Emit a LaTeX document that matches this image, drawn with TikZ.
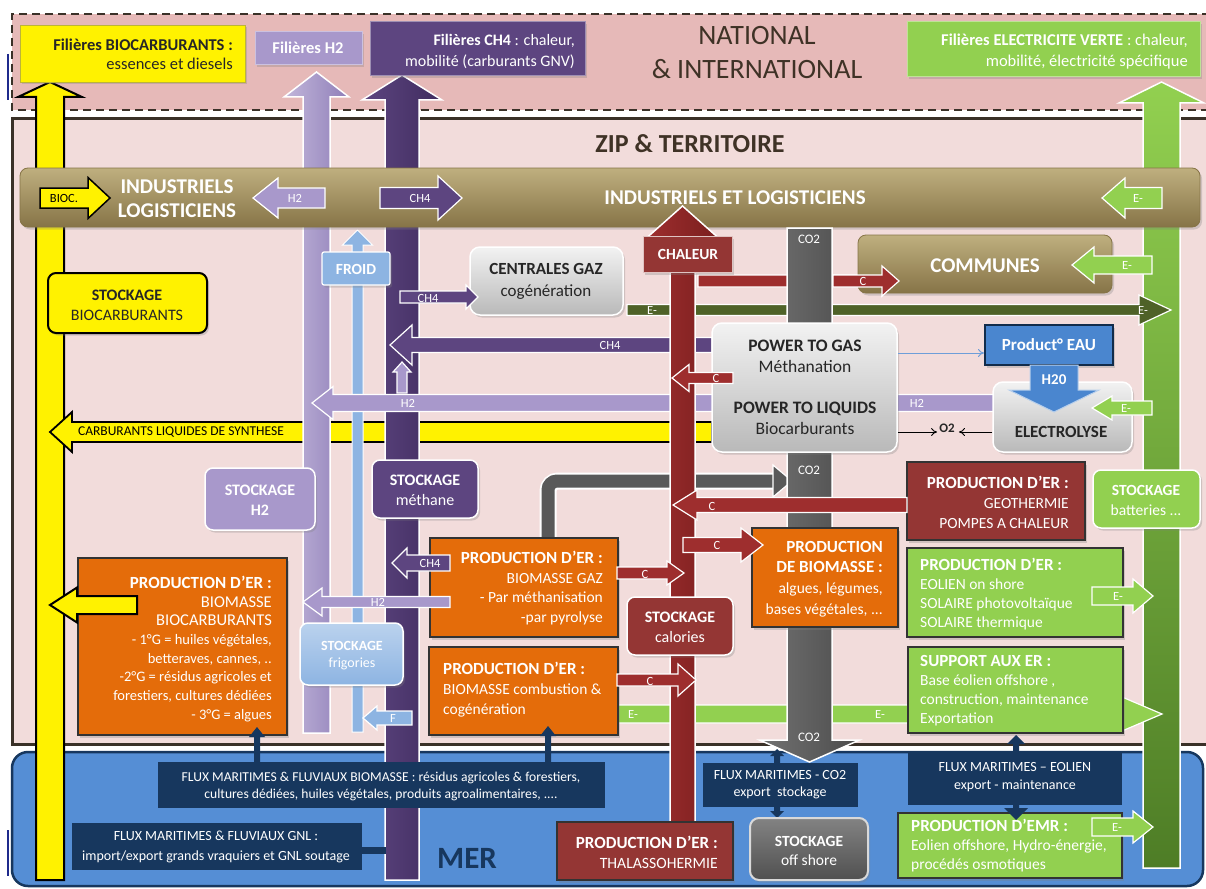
\documentclass[tikz,border=0pt]{standalone}
\usepackage{fontspec}
\setmainfont{Carlito}
\usetikzlibrary{arrows.meta,shadows}
\definecolor{pinkA}{HTML}{E6B9B8}
\definecolor{pinkB}{HTML}{F2DCDB}
\definecolor{darkb}{HTML}{3A3128}
\definecolor{oliveL}{HTML}{BFAF7F}
\definecolor{oliveD}{HTML}{867447}
\definecolor{lav}{HTML}{A898CB}
\definecolor{lavD}{HTML}{8F7EB8}
\definecolor{purp}{HTML}{5D4580}
\definecolor{purpD}{HTML}{402C5F}
\definecolor{redc}{HTML}{9E2E2E}
\definecolor{redD}{HTML}{7A1E1E}
\definecolor{lgreen}{HTML}{92D050}
\definecolor{green2}{HTML}{4E7D26}
\definecolor{dgreen}{HTML}{4F6228}
\definecolor{greyc}{HTML}{595959}
\definecolor{orangec}{HTML}{E46C0A}
\definecolor{navy}{HTML}{17375E}
\definecolor{merblue}{HTML}{558ED5}
\definecolor{lblue}{HTML}{8DB4E2}
\definecolor{eaublue}{HTML}{4A86CF}
\definecolor{titlec}{HTML}{3F3226}
\definecolor{geored}{HTML}{943634}
\definecolor{border}{HTML}{333333}
\definecolor{txtd}{HTML}{262626}
\definecolor{markblue}{HTML}{1F2A8C}
\newcommand\myfs[2]{\fontsize{#1}{#2}\selectfont}
\newcommand\myhd[1]{{\fontsize{17}{19}\selectfont\bfseries #1}}
% horizontal arrow: style, x tail, x tip, y, shaft half, head half, head length
\newcommand\harr[7]{%
 \pgfmathsetmacro\myhb{#3-sign(#3-#2)*#7}%
 \path[#1] (#2,#4-#5) -- (\myhb,#4-#5) -- (\myhb,#4-#6) -- (#3,#4) -- (\myhb,#4+#6) -- (\myhb,#4+#5) -- (#2,#4+#5) -- cycle;}
% vertical arrow: style, y tail, y tip, x, shaft half, head half, head length
\newcommand\varr[7]{%
 \pgfmathsetmacro\myvb{#3-sign(#3-#2)*#7}%
 \path[#1] (#4-#5,#2) -- (#4-#5,\myvb) -- (#4-#6,\myvb) -- (#4,#3) -- (#4+#6,\myvb) -- (#4+#5,\myvb) -- (#4+#5,#2) -- cycle;}
% box: name, style, x1, y1, x2, y2, text
\newcommand\bx[7]{\node[inner sep=0pt, minimum width={(#5)-(#3)}, minimum height={(#6)-(#4)}, #2] (#1) at ({((#3)+(#5))/2},{((#4)+(#6))/2}) {#7};}
\begin{document}
\begin{tikzpicture}[x=1pt,y=-1pt,
  lab/.style={font={\myfs{12.5}{14}}, text=white, inner sep=0pt},
  labk/.style={font={\myfs{12.5}{14}}, text=black, inner sep=0pt},
  shd/.style={drop shadow={opacity=0.3, shadow xshift=2pt, shadow yshift=-2.5pt}},
  sq/.style={draw=border, line width=2pt, shd},
  rb/.style={rounded corners=8pt, draw=white, line width=1.5pt, shd},
  gbox/.style={top color=gray!10, bottom color=gray!55, draw=white, line width=1.5pt, rounded corners=10pt, shd},
  wtxt/.style={text=white, inner sep=0pt},
  dtxt/.style={text=txtd, inner sep=0pt},
  wl/.style={draw=white, line width=1.2pt}
]
\useasboundingbox (0,0) rectangle (1206,888);
\fill[white] (0,0) rectangle (1206,888);
% ---------- backgrounds
\fill[pinkA] (12,14) rectangle (1210,110);
\draw[darkb, line width=2.5pt, dash pattern=on 8pt off 5pt] (1210,14) -- (12,14) -- (12,110) -- (1210,110);
\fill[pinkB] (12,119) rectangle (1210,744);
\draw[darkb, line width=3pt] (1210,119) -- (12,119) -- (12,744) -- (1210,744);
\draw[navy, line width=2.5pt, fill=merblue, rounded corners=16pt] (12,752) rectangle (1203,886);
\draw[markblue, line width=2pt] (7.5,54) -- (7.5,100);
\draw[markblue, line width=2pt] (7.5,830) -- (7.5,876);
\node[font={\myfs{28}{34}}, text=titlec, align=center] (nat) at (757,53) {NATIONAL\\\& INTERNATIONAL};
\node[font={\bfseries\myfs{26}{28}}, text=titlec] (zip) at (690,144) {ZIP \& TERRITOIRE};
% ---------- vertical flows and horizontal flows underneath
\varr{fill=yellow, draw=black, line width=2pt}{880}{82}{50}{14}{32}{15}
\harr{fill=yellow, draw=black, line width=1.8pt}{712}{50}{432}{10}{20}{22}
\node[labk, font={\myfs{13.5}{14}}] (carb) at (181,432) {CARBURANTS LIQUIDES DE SYNTHESE};
\varr{left color=lav!70!white, right color=lavD, draw=white, line width=1.5pt}{733}{72}{316.5}{13.5}{32.5}{25}
\varr{fill=lblue, draw=white, line width=1pt}{732}{230}{357.5}{5.5}{15}{15}
\varr{left color=purp, right color=purpD, draw=white, line width=1.5pt}{880}{75}{402}{17}{40}{25}
\varr{top color=lgreen, bottom color=green2, draw=white, line width=1.5pt}{868}{82}{1161.5}{18.5}{42.5}{21}
\harr{fill=lgreen, wl}{617}{1162}{714}{9}{17}{40}
\node[lab] at (633,714) {E-};
\node[lab] at (880,714) {E-};
\harr{fill=dgreen, wl}{627}{1171}{310}{5.5}{15}{32}
\node[lab] at (652,310) {E-};
\node[lab] at (1143,310) {E-};
\harr{fill=redc, wl}{698}{899}{281}{6}{15}{17}
\harr{fill=purp, wl}{712}{390}{345}{7.5}{20}{22}
\node[lab] at (610,345) {CH4};
\harr{fill=lav, wl}{995}{312}{403}{8.5}{16.5}{21}
\node[lab] at (408,403) {H2};
\node[lab] at (917,403) {H2};
\varr{fill=lav, wl}{393}{362}{402}{5}{9}{10}
% ---------- industriels bar
\bx{ind}{top color=oliveL, bottom color=oliveD, draw=oliveD, line width=0.8pt, rounded corners=8pt, shd}{20}{168}{1200}{227}{}
\node[font={\bfseries\myfs{21}{24}}, wtxt, align=center] (indl) at (177,199) {INDUSTRIELS\\LOGISTICIENS};
\node[font={\bfseries\myfs{21}{22}}, wtxt] (indc) at (735,198) {INDUSTRIELS ET LOGISTICIENS};
\harr{fill=yellow, draw=black, line width=1.5pt}{40}{110}{198}{10}{20.5}{22}
\node[labk] at (64,198) {BIOC.};
\harr{fill=lav, wl}{325}{253}{198}{10}{20}{25}
\node[lab] at (295,198) {H2};
\harr{fill=purp, wl}{380}{462}{198}{10.5}{22}{24}
\node[lab] at (420,198) {CH4};
\harr{fill=lgreen, wl}{1162}{1102}{198}{10.5}{20}{23}
\node[lab] at (1138,198) {E-};
% ---------- grey bend, red shaft, grey shaft
\draw[white, line width=17pt, rounded corners=10pt] (548,540) -- (548,481) -- (775,481);
\draw[greyc, line width=13pt, rounded corners=9pt] (548,541) -- (548,481) -- (776,481);
\path[fill=greyc, wl] (773,465) -- (792,481) -- (773,497) -- cycle;
\varr{left color=redc, right color=redD, draw=white, line width=1.5pt}{822}{206}{682.5}{12.5}{36}{32}
\varr{left color=greyc!85!white, right color=greyc!85!black, draw=white, line width=1.5pt}{228}{762}{809.5}{22.5}{50}{22}
\node[lab, font={\myfs{13}{14}}] at (809,239) {CO2};
\node[lab, font={\myfs{13}{14}}] at (809,470) {CO2};
\node[lab, font={\myfs{13}{14}}] at (809,737) {CO2};
% ---------- top boxes
\bx{fbio}{fill=yellow, draw=yellow!70!black, line width=0.8pt, shd}{20}{25}{245}{82}{}
\node[font={\myfs{16.5}{19}}, align=right, anchor=east, dtxt] (fbiot) at (233,54) {\textbf{Filières BIOCARBURANTS :}\\essences et diesels};
\bx{fh2}{fill=lav, draw=lav!60!white, line width=1pt, shd}{255}{32}{362}{65}{}
\node[font={\bfseries\myfs{16.5}{18}}, wtxt] (fh2t) at (308,48) {Filières H2};
\bx{fch4}{fill=purp, draw=purp!60!white, line width=1pt, shd}{370}{22}{585}{76}{}
\node[font={\myfs{16}{21}}, align=right, anchor=east, wtxt] (fch4t) at (575,51) {\textbf{Filières CH4} : chaleur,\\mobilité (carburants GNV)};
\bx{fel}{fill=lgreen, draw=lgreen!60!white, line width=1pt, shd}{907}{22}{1200}{77}{}
\node[font={\myfs{16.5}{21}}, align=right, anchor=east, wtxt] (felt) at (1188,52) {\textbf{Filières ELECTRICITE VERTE} : chaleur,\\mobilité, électricité spécifique};
% ---------- left column
\bx{stbio}{fill=yellow, draw=black, line width=2pt, rounded corners=8pt, shd}{48}{273}{207}{333}{}
\node[font={\myfs{16}{20}}, align=center, dtxt] (stbiot) at (127,305) {\textbf{STOCKAGE}\\BIOCARBURANTS};
\bx{froid}{fill=lblue, draw=white, line width=1.2pt, rounded corners=2pt, shd}{322}{252}{390}{285}{}
\node[font={\bfseries\myfs{15.5}{17}}, wtxt] (froidt) at (356,269) {FROID};
\bx{sth2}{fill=lav, rb}{205}{468}{315}{530}{}
\node[font={\bfseries\myfs{16}{20}}, align=center, wtxt] (sth2t) at (260,500) {STOCKAGE\\H2};
\bx{stch4}{fill=purp, rb}{372}{460}{478}{518}{}
\node[font={\myfs{16}{20}}, align=center, wtxt] (stch4t) at (425,490) {\textbf{STOCKAGE}\\méthane};
\bx{pbc}{fill=orangec, sq}{78}{558}{287}{735}{}
\node[font={\myfs{14.5}{18.7}}, align=right, anchor=east, wtxt] (pbct) at (272,649) {\myhd{PRODUCTION D’ER :}\\{\myfs{16.5}{18}BIOMASSE}\\{\myfs{16.5}{18}BIOCARBURANTS}\\- 1°G = huiles végétales,\\betteraves, cannes, ..\\-2°G = résidus agricoles et\\forestiers, cultures dédiées\\- 3°G = algues};
\harr{fill=yellow, draw=black, line width=2pt}{137}{50}{605}{9}{17.5}{27}
\bx{stfr}{top color=lblue!60!white, bottom color=lblue, rb}{300}{623}{403}{685}{}
\node[font={\myfs{14}{17}}, align=center, wtxt] (stfrt) at (352,656) {\textbf{STOCKAGE}\\frigories};
% ---------- centre boxes
\bx{chal}{fill=geored, draw=white!70!geored, line width=1pt, shd}{643}{236}{732}{272}{}
\node[font={\bfseries\myfs{15.5}{17}}, wtxt] (chalt) at (688,254) {CHALEUR};
\bx{cgaz}{gbox}{470}{247}{623}{315}{}
\node[font={\myfs{17}{22}}, align=center, dtxt] (cgazt) at (546,281) {\textbf{CENTRALES GAZ}\\cogénération};
\harr{fill=purp, wl}{400}{478}{297}{6}{12}{12}
\node[lab] at (428,298) {CH4};
\bx{comm}{top color=oliveL, bottom color=oliveD, draw=oliveD, line width=0.8pt, rounded corners=8pt, shd}{858}{235}{1112}{293}{}
\node[font={\bfseries\myfs{21}{22}}, wtxt] (commt) at (985,266) {COMMUNES};
\harr{fill=redc, wl}{833}{899}{281}{6}{15}{17}
\node[lab] at (863,281) {C};
\harr{fill=lgreen, wl}{1152}{1072}{265}{9}{18}{22}
\node[lab] at (1127,265) {E-};
\bx{ptg}{gbox}{712}{323}{897}{452}{}
\node[font={\myfs{17.5}{21}}, align=center, dtxt] (ptgt) at (805,356) {\textbf{POWER TO GAS}\\Méthanation};
\node[font={\myfs{17.5}{21}}, align=center, dtxt] (ptlt) at (805,418) {\textbf{POWER TO LIQUIDS}\\Biocarburants};
\harr{fill=redc, wl}{733}{672}{378}{5.5}{13.5}{17}
\node[lab] at (716,378) {C};
\bx{eau}{fill=eaublue, draw=navy!80!black, line width=2pt, shd}{985}{325}{1113}{365}{}
\node[font={\bfseries\myfs{17}{18}}, wtxt] (eaut) at (1049,345) {Product° EAU};
\draw[-{To[length=6pt,width=8pt]}, color=eaublue!80!white, line width=1pt] (ptg.east |- 0,353) -- (eau.west |- 0,353);
\bx{elec}{gbox}{993}{382}{1132}{452}{}
\node[font={\bfseries\myfs{17}{18}}, dtxt] (elect) at (1061,432) {ELECTROLYSE};
\varr{fill=eaublue, draw=white!60!eaublue, line width=1pt}{365}{412}{1054}{24}{45}{22}
\node[font={\bfseries\myfs{15}{16}}, wtxt] (h20) at (1054,380) {H20};
\harr{fill=lgreen, wl}{1152}{1092}{408}{7}{12}{20}
\node[lab] at (1126,408) {E-};
\node[font={\bfseries\myfs{13}{14}}, dtxt] (o2) at (947,428) {O2};
\draw[-{To[length=6pt,width=8pt]}, line width=0.9pt] (ptg.east |- 0,432) -- ([xshift=-2pt]o2.west |- 0,432);
\draw[-{To[length=6pt,width=8pt]}, line width=0.9pt] (elec.west |- 0,432) -- ([xshift=4pt]o2.east |- 0,432);
% ---------- right column
\bx{geo}{fill=geored, sq}{907}{462}{1085}{540}{}
\node[font={\myfs{15.5}{20}}, align=right, anchor=east, wtxt] (geot) at (1069,502) {\myhd{PRODUCTION D’ER :}\\GEOTHERMIE\\POMPES A CHALEUR};
\harr{fill=redc, wl}{907}{673}{505}{7.5}{15}{24}
\node[lab] at (712,506) {C};
\bx{batt}{fill=lgreen, rb}{1093}{470}{1200}{528}{}
\node[font={\myfs{15.5}{20}}, align=center, wtxt] (battt) at (1146,500) {\textbf{STOCKAGE}\\batteries ...};
\bx{pbio}{fill=orangec, sq}{752}{528}{898}{627}{}
\node[font={\myfs{15.5}{20.5}}, align=right, anchor=east, wtxt] (pbiot) at (883,579) {\myhd{PRODUCTION}\\\myhd{DE BIOMASSE :}\\algues, légumes,\\bases végétales, ...};
\harr{fill=redc, wl}{683}{763}{545}{7.5}{17}{22}
\node[lab] at (717,545) {C};
\bx{eol}{fill=lgreen, sq}{907}{548}{1123}{637}{}
\node[font={\myfs{15.5}{19}}, align=left, anchor=west, wtxt] (eolt) at (920,594) {\myhd{PRODUCTION D’ER :}\\EOLIEN on shore\\SOLAIRE photovoltaïque\\SOLAIRE thermique};
\harr{fill=lgreen, wl}{1092}{1153}{596}{9}{17}{20}
\node[lab] at (1118,596) {E-};
\bx{sup}{fill=lgreen, sq}{908}{647}{1123}{733}{}
\node[font={\myfs{15.5}{19}}, align=left, anchor=west, wtxt] (supt) at (920,691) {\myhd{SUPPORT AUX ER :}\\Base éolien offshore ,\\construction, maintenance\\Exportation};
% ---------- biomass boxes
\bx{pgaz}{fill=orangec, sq}{430}{538}{618}{637}{}
\node[font={\myfs{15.5}{19.5}}, align=right, anchor=east, wtxt] (pgazt) at (603,588) {\myhd{PRODUCTION D’ER :}\\BIOMASSE GAZ\\- Par méthanisation\\-par pyrolyse};
\harr{fill=redc, wl}{617}{684}{573}{6}{12}{17}
\node[lab] at (645,574) {C};
\bx{pcomb}{fill=orangec, sq}{429}{647}{618}{735}{}
\node[font={\myfs{15.5}{20}}, align=left, anchor=west, wtxt] (pcombt) at (443,690) {\myhd{PRODUCTION D’ER :}\\BIOMASSE combustion \&\\cogénération};
\harr{fill=redc, wl}{617}{696}{680}{6}{16}{18}
\node[lab] at (650,681) {C};
\bx{cal}{fill=geored, rb}{627}{597}{733}{655}{}
\node[font={\myfs{16}{20}}, align=center, wtxt] (calt) at (680,627) {\textbf{STOCKAGE}\\calories};
\harr{fill=purp, wl}{450}{392}{563}{8}{15}{15}
\node[lab] at (430,563) {CH4};
\harr{fill=lav, wl}{450}{303}{602}{5.5}{14}{19}
\node[lab] at (378,602) {H2};
\harr{fill=lblue, wl}{412}{363}{718}{7}{12}{14}
\node[lab] at (393,718) {F};
% ---------- sea
\node[font={\bfseries\myfs{31}{32}}, text=navy] (mer) at (467,858) {MER};
\bx{fxbio}{fill=navy}{158}{762}{605}{808}{}
\node[font={\myfs{13.6}{17}}, align=center, wtxt] (fxbiot) at (381,786) {FLUX MARITIMES \& FLUVIAUX BIOMASSE : résidus agricoles \& forestiers,\\cultures dédiées, huiles végétales, produits agroalimentaires, ....};
\varr{fill=navy}{762}{727}{257}{3}{8}{10}
\varr{fill=navy}{762}{726}{548}{3}{8}{10}
\bx{fxgnl}{fill=navy}{72}{823}{362}{870}{}
\node[font={\myfs{14}{20}}, align=center, wtxt] (fxgnlt) at (216,847) {FLUX MARITIMES \& FLUVIAUX GNL :\\import/export grands vraquiers et GNL soutage};
\fill[navy] (fxgnl.east |- 0,847) rectangle (386,854);
\bx{thal}{fill=geored, sq}{557}{822}{733}{880}{}
\node[font={\myfs{15.7}{20}}, align=right, anchor=east, wtxt] (thalt) at (718,852) {\myhd{PRODUCTION D’ER :}\\THALASSOHERMIE};
\bx{fxco2}{fill=navy}{703}{763}{858}{807}{}
\node[font={\myfs{14}{17}}, align=center, wtxt] (fxco2t) at (780,785) {FLUX MARITIMES - CO2\\export \ stockage};
\varr{fill=navy}{763}{749}{777}{3}{7}{7}
\varr{fill=navy}{807}{818}{777}{3}{7}{7}
\bx{offs}{top color=greyc!75!white, bottom color=greyc!90!black, draw=white!85!black, line width=2pt, rounded corners=9pt, shd}{750}{818}{868}{880}{}
\node[font={\myfs{15.5}{19}}, align=center, wtxt] (offst) at (809,851) {\textbf{STOCKAGE}\\off shore};
\bx{fxeol}{fill=navy}{908}{752}{1122}{805}{}
\node[font={\myfs{14}{18}}, align=center, wtxt] (fxeolt) at (1015,777) {FLUX MARITIMES – EOLIEN\\export - maintenance};
\varr{fill=navy}{752}{735}{1016}{3}{9}{9}
\bx{emr}{fill=lgreen, sq}{898}{813}{1122}{878}{}
\node[font={\myfs{15.5}{19}}, align=left, anchor=west, wtxt] (emrt) at (911,846) {\myhd{PRODUCTION D’EMR :}\\Eolien offshore, Hydro-énergie,\\procédés osmotiques};
\varr{fill=navy}{805}{820}{1016}{3}{12}{12}
\harr{fill=lgreen, wl}{1092}{1153}{827}{9}{16}{20}
\node[lab] at (1117,827) {E-};
\end{tikzpicture}
\end{document}
